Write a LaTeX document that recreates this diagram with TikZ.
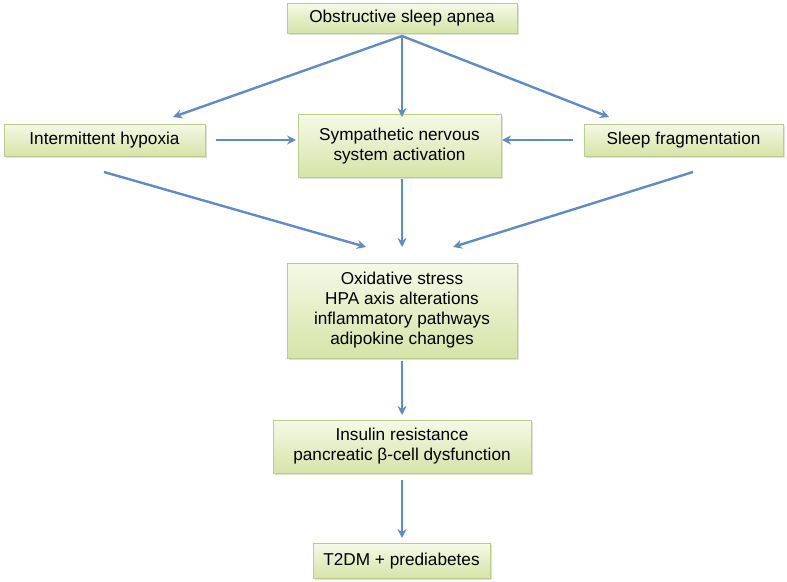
\documentclass[tikz,border=0pt]{standalone}
\usepackage{fontspec}
\setmainfont{Liberation Sans}
\usetikzlibrary{arrows.meta,shadows}
\definecolor{arr}{HTML}{5F8CC4}
\definecolor{boxtop}{HTML}{F5F9E6}
\definecolor{boxbot}{HTML}{D6E3A8}
\definecolor{boxline}{HTML}{B9CE8C}
\tikzset{
  box/.style={draw=boxline, line width=1pt, top color=boxtop, bottom color=boxbot,
    align=center, font=\fontsize{17.2}{20}\selectfont, inner sep=0pt,
    drop shadow={shadow xshift=1.5pt, shadow yshift=-1.5pt, opacity=0.25}},
  conn/.style={draw=arr, line width=2.4pt, -{Stealth[length=9pt,width=9pt]}}
}
\begin{document}
\begin{tikzpicture}[x=1pt,y=-1pt]
\useasboundingbox (0,0) rectangle (787,581);
\node[box, minimum width=230, minimum height=30] (osa) at (402,18) {Obstructive sleep apnea};
\node[box, minimum width=201, minimum height=32] (ih) at (104.5,140) {Intermittent hypoxia};
\node[box, minimum width=203, minimum height=63] (sns) at (399.5,146) {Sympathetic nervous\\system activation};
\node[box, minimum width=199, minimum height=32] (sf) at (683.5,140) {Sleep fragmentation};
\node[box, minimum width=230, minimum height=95] (ox) at (402,310.5) {Oxidative stress\\HPA axis alterations\\inflammatory pathways\\adipokine changes};
\node[box, minimum width=258, minimum height=53] (ins) at (402,446.5) {Insulin resistance\\pancreatic β-cell dysfunction};
\node[box, minimum width=177, minimum height=35] (t2) at (401.5,561) {T2DM + prediabetes};
\coordinate (o1) at (402,36);
\coordinate (a1) at (173,117);
\coordinate (a2) at (402,117);
\coordinate (a3) at (609,117);
\coordinate (ihr) at (216,140);
\coordinate (snl) at (296,140);
\coordinate (sfl) at (573,140);
\coordinate (snr) at (502,140);
\coordinate (b1) at (104,172);
\coordinate (c1) at (366,247);
\coordinate (b2) at (402,179);
\coordinate (c2) at (402,247);
\coordinate (b3) at (693,172);
\coordinate (c3) at (453,247);
\coordinate (d1) at (402,361);
\coordinate (d2) at (402,415);
\coordinate (e1) at (402,480);
\coordinate (e2) at (402,538);
\draw[conn] (o1) -- (a1);
\draw[conn] (o1) -- (a2);
\draw[conn] (o1) -- (a3);
\draw[conn] (ihr) -- (snl);
\draw[conn] (sfl) -- (snr);
\draw[conn] (b1) -- (c1);
\draw[conn] (b2) -- (c2);
\draw[conn] (b3) -- (c3);
\draw[conn] (d1) -- (d2);
\draw[conn] (e1) -- (e2);
\end{tikzpicture}
\end{document}
